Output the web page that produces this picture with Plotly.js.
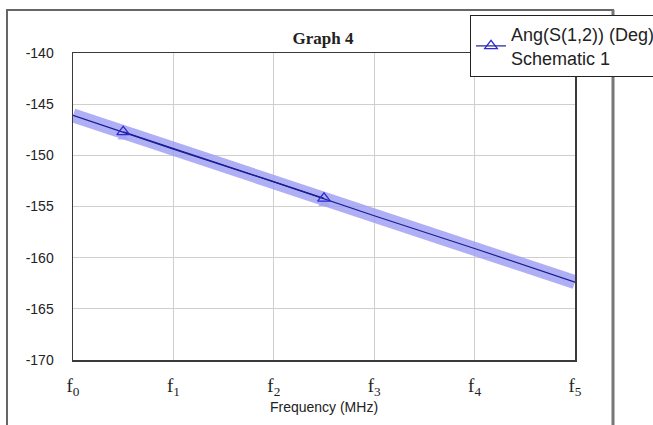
<!DOCTYPE html>
<html>
<head>
<meta charset="utf-8">
<script src="https://cdn.plot.ly/plotly-3.0.1.min.js"></script>
<style>html,body{margin:0;padding:0;background:#fff;}#chart{width:653px;height:425px;}</style>
</head>
<body>
<div id="chart"></div>
<script>
// ---- data ----
const freqPos = [0, 1, 2, 3, 4, 5];
const freqTickText = ['f<sub>0</sub>', 'f<sub>1</sub>', 'f<sub>2</sub>', 'f<sub>3</sub>', 'f<sub>4</sub>', 'f<sub>5</sub>'];
const angDeg = [-146.1, -149.4, -152.6, -155.9, -159.1, -162.4];
const markerFreq = [0.5, 2.5];
const markerAng = [-147.7, -154.2];
const yTicks = [-170, -165, -160, -155, -150, -145, -140];
const yTickText = ['-170', '-165', '-160', '-155', '-150', '-145', '-140'];
const seriesName = 'Ang(S(1,2)) (Deg)<br>Schematic 1';

// plot area in pixels
const W = 653, H = 425, L = 73, R = 575, T = 53, B = 360;
const px = x => (x - L) / (R - L);
const py = y => (B - y) / (B - T);

const traces = [
  { x: freqPos, y: angDeg, mode: 'lines', showlegend: false, hoverinfo: 'skip',
    line: { color: 'rgba(155,155,242,0.8)', width: 14 } },
  { x: markerFreq, y: markerAng.map(v => v - 0.5), mode: 'markers', showlegend: false, hoverinfo: 'skip',
    marker: { symbol: 'triangle-up', size: 10, color: 'rgba(165,165,242,0.85)' } },
  { x: freqPos, y: angDeg, mode: 'lines', showlegend: false,
    line: { color: '#1c1c90', width: 1.2 } },
  { x: markerFreq, y: markerAng, mode: 'lines+markers', name: seriesName,
    line: { color: '#1c1c90', width: 1.2 },
    marker: { symbol: 'triangle-up-open', size: 11, color: '#2a2ad0', line: { width: 1.3 } } }
];

const layout = {
  width: W, height: H,
  margin: { l: L, r: W - R, t: T, b: H - B, autoexpand: false },
  paper_bgcolor: '#ffffff', plot_bgcolor: '#ffffff',
  font: { family: 'Liberation Sans, Arial, sans-serif', color: '#222' },
  title: { text: '<b>Graph 4</b>', x: px(323), xref: 'paper', xanchor: 'center',
           y: 1 - 38 / H, yref: 'container', yanchor: 'middle',
           font: { family: 'Liberation Serif, Times New Roman, serif', size: 17, color: '#222' } },
  xaxis: {
    range: [0, 5], tickvals: freqPos, ticktext: freqTickText, ticks: '',
    showgrid: true, gridcolor: '#cfcfcf', gridwidth: 1, zeroline: false,
    showline: true, mirror: true, linecolor: '#3a3a3a', linewidth: 1.5,
    tickfont: { family: 'Liberation Serif, Times New Roman, serif', size: 19, color: '#222' },
    ticklabelstandoff: 8,
    title: { text: 'Frequency (MHz)', standoff: 0,
             font: { family: 'Liberation Sans, Arial, sans-serif', size: 14, color: '#222' } }
  },
  yaxis: {
    range: [-170, -140], tickvals: yTicks, ticktext: yTickText, ticks: '',
    showgrid: true, gridcolor: '#cfcfcf', gridwidth: 1, zeroline: false,
    showline: true, mirror: true, linecolor: '#3a3a3a', linewidth: 1.5,
    tickfont: { family: 'Liberation Sans, Arial, sans-serif', size: 14, color: '#222' },
    ticklabelstandoff: 15
  },
  legend: {
    x: px(470), xanchor: 'left', y: py(15), yanchor: 'top',
    bgcolor: '#ffffff', bordercolor: '#222', borderwidth: 1,
    font: { family: 'Liberation Sans, Arial, sans-serif', size: 18, color: '#222' },
    itemwidth: 30, tracegroupgap: 0
  },
  showlegend: true,
  shapes: [
    // outer frame
    { type: 'rect', xref: 'paper', yref: 'paper', x0: px(7), x1: px(613), y0: py(440), y1: py(10),
      line: { color: '#666', width: 2 }, fillcolor: 'rgba(0,0,0,0)', layer: 'below' },
    { type: 'line', xref: 'paper', yref: 'paper', x0: px(613), x1: px(613), y0: py(440), y1: py(10),
      line: { color: '#777', width: 3 } },
    // legend shadow
    { type: 'rect', xref: 'paper', yref: 'paper', x0: px(472), x1: px(700), y0: py(74), y1: py(17),
      line: { width: 0 }, fillcolor: '#555' }
  ]
};

Plotly.newPlot('chart', traces, layout, { staticPlot: true, displayModeBar: false });
</script>
</body>
</html>
